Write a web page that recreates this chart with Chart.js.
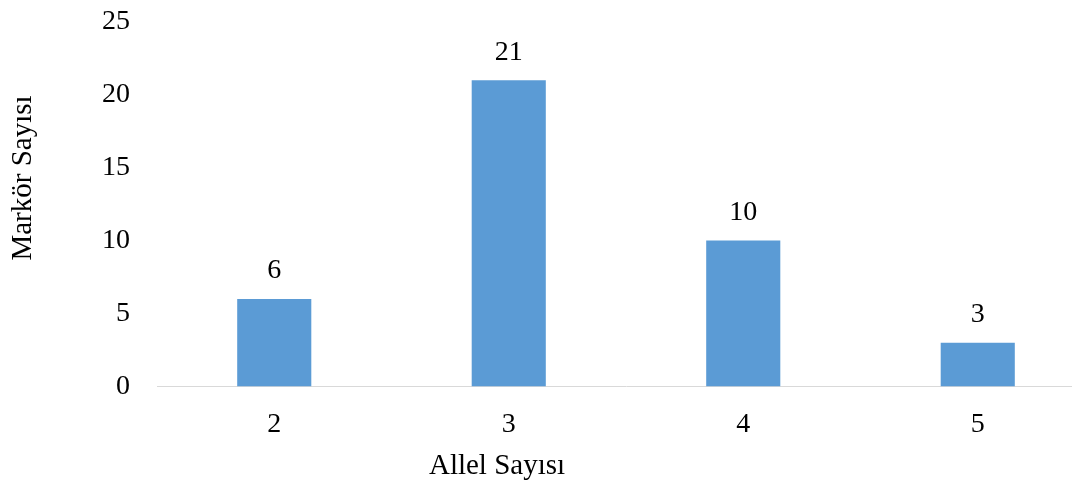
<!DOCTYPE html>
<html>
<head>
<meta charset="utf-8">
<script src="https://cdn.jsdelivr.net/npm/chart.js@4/dist/chart.umd.min.js"></script>
<style>
  html, body { margin: 0; padding: 0; background: #fff; overflow: hidden; }
  #wrap { width: 1095px; height: 499px; margin-top: -14px; }
</style>
</head>
<body>
<div id="wrap"><canvas id="c" width="1095" height="499"></canvas></div>
<script>
// Allele count per marker and how many markers have it
const alleleCounts = ['2', '3', '4', '5'];
const markerCounts = [6, 21, 10, 3];
const yTicks = [0, 5, 10, 15, 20, 25];

const xTitle = 'Allel Sayısı';
const yTitle = 'Markör Sayısı';

const FONT = "'Times New Roman', 'Liberation Serif', serif";
const TEXT = '#000000';
const SHIFT = 14; // canvas is raised by this much inside the page

// Value labels above each bar and the two axis titles
const annotate = {
  id: 'annotate',
  afterDatasetsDraw(chart) {
    const ctx = chart.ctx;
    const meta = chart.getDatasetMeta(0);
    ctx.save();
    ctx.fillStyle = TEXT;
    ctx.font = '28px ' + FONT;
    ctx.textAlign = 'center';
    ctx.textBaseline = 'middle';
    meta.data.forEach((bar, i) => {
      ctx.fillText(String(markerCounts[i]), bar.x, bar.y - 28);
    });

    ctx.font = '29px ' + FONT;
    ctx.fillText(xTitle, 497, 466 + SHIFT);

    ctx.translate(23, 178 + SHIFT);
    ctx.rotate(-Math.PI / 2);
    ctx.fillText(yTitle, 0, 0);
    ctx.restore();
  }
};

new Chart(document.getElementById('c'), {
  type: 'bar',
  data: {
    labels: alleleCounts,
    datasets: [{
      data: markerCounts,
      backgroundColor: '#5B9BD5',
      borderWidth: 0,
      categoryPercentage: 1,
      barPercentage: 0.316
    }]
  },
  options: {
    responsive: false,
    animation: false,
    layout: { padding: 0 },
    plugins: {
      legend: { display: false },
      tooltip: { enabled: false }
    },
    scales: {
      x: {
        grid: { display: false },
        border: { display: true, color: '#D9D9D9', width: 1 },
        ticks: {
          color: TEXT,
          font: { family: FONT, size: 28 },
          padding: 13
        },
        afterFit(scale) { scale.height = 98.5; }
      },
      y: {
        min: 0,
        max: 25,
        afterBuildTicks(scale) { scale.ticks = yTicks.map(v => ({ value: v })); },
        grid: { display: false },
        border: { display: false },
        ticks: {
          color: TEXT,
          font: { family: FONT, size: 28 },
          padding: 19
        },
        afterFit(scale) { scale.width = 157; }
      }
    }
  },
  plugins: [annotate]
});
</script>
</body>
</html>
